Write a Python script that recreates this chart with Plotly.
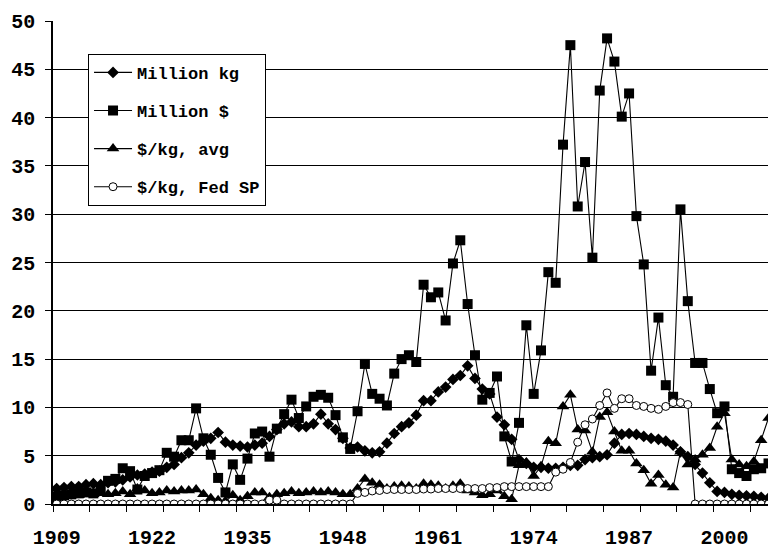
import plotly.graph_objects as go

# Annual series, 1909-2006
years = list(range(1909, 2007))

million_kg = [
    1.6,
    1.7, 1.8, 1.8, 2.0, 2.1, 2.0, 2.2, 2.3, 2.5, 2.8,
    3.0, 3.1, 3.3, 3.4, 3.8, 4.1, 4.8, 5.3, 6.1, 6.5,
    6.8, 7.4, 6.4, 6.1, 6.0, 5.9, 6.1, 6.3, 7.0, 7.7,
    8.3, 8.5, 8.0, 8.0, 8.3, 9.3, 8.3, 7.7, 6.8, 5.8,
    5.9, 5.5, 5.3, 5.4, 6.3, 7.3, 8.0, 8.4, 9.2, 10.7,
    10.7, 11.6, 12.1, 12.9, 13.3, 14.3, 13.0, 11.9, 11.4, 9.0,
    8.2, 6.7, 4.6, 4.2, 3.8, 3.8, 3.7, 3.7, 3.8, 4.0,
    4.0, 4.6, 4.8, 4.9, 5.1, 6.3, 7.2, 7.3, 7.2, 7.0,
    6.8, 6.7, 6.5, 6.1, 5.4, 4.9, 4.1, 3.2, 2.2, 1.3,
    1.2, 1.0, 0.9, 0.85, 0.8, 0.7, 0.6,
]

million_usd = [
    0.8,
    0.9, 1.0, 1.1, 1.2, 1.1, 1.5, 2.4, 2.6, 3.7, 3.4,
    1.5, 2.9, 3.2, 3.5, 5.3, 4.9, 6.6, 6.6, 9.9, 6.8,
    5.1, 2.7, 1.2, 4.1, 2.5, 4.7, 7.3, 7.5, 4.9, 7.8,
    9.3, 10.8, 8.9, 10.1, 11.1, 11.3, 11.0, 9.2, 6.9, 5.7,
    9.6, 14.5, 11.4, 10.9, 10.2, 13.5, 15.0, 15.4, 14.7, 22.7,
    21.4, 21.9, 19.0, 24.9, 27.3, 20.7, 15.4, 10.8, 11.5, 13.2,
    7.0, 4.4, 8.4, 18.5, 11.4, 15.9, 24.0, 22.9, 37.2, 47.5,
    30.8, 35.4, 25.5, 42.8, 48.2, 45.8, 40.1, 42.5, 29.8, 24.8,
    13.8, 19.3, 12.3, 11.1, 30.5, 21.0, 14.6, 14.6, 11.9, 9.4,
    10.1, 3.6, 3.2, 2.9, 3.6, 3.7, 4.2,
]

usd_per_kg_avg = [
    1.0,
    0.9, 1.1, 0.9, 1.2, 1.0, 1.1, 1.0, 1.1, 1.3, 1.0,
    1.6, 1.4, 1.1, 1.2, 1.4, 1.3, 1.4, 1.4, 1.5, 1.0,
    0.6, 0.4, 0.3, 0.9, 0.4, 0.8, 1.2, 1.2, 0.7, 1.0,
    1.1, 1.3, 1.1, 1.2, 1.3, 1.2, 1.3, 1.2, 1.0, 1.0,
    1.6, 2.6, 2.2, 2.0, 1.6, 1.8, 1.9, 1.8, 1.6, 2.1,
    2.0, 1.9, 1.6, 1.9, 2.1, 1.4, 1.2, 0.9, 1.0, 1.4,
    0.8, 0.5, 4.0, 4.3, 2.9, 3.9, 6.5, 6.3, 10.1, 11.3,
    7.7, 7.6, 5.4, 9.0, 9.5, 7.5, 5.5, 5.5, 4.2, 3.5,
    2.1, 3.0, 2.0, 1.7, 5.4, 4.1, 4.6, 5.1, 5.8, 8.0,
    9.4, 4.6, 4.1, 3.9, 4.4, 6.6, 8.9,
]

usd_per_kg_fed_sp = [
    0.0,
    0.0, 0.0, 0.0, 0.0, 0.0, 0.0, 0.0, 0.0, 0.0, 0.0,
    0.0, 0.0, 0.0, 0.0, 0.0, 0.0, 0.0, 0.0, 0.0, 0.0,
    0.0, 0.0, 0.0, 0.0, 0.0, 0.0, 0.0, 0.0, 0.4, 0.4,
    0.0, 0.0, 0.0, 0.0, 0.0, 0.0, 0.0, 0.0, 0.0, 0.0,
    1.1, 1.2, 1.35, 1.4, 1.5, 1.5, 1.5, 1.5, 1.5, 1.55,
    1.55, 1.6, 1.6, 1.6, 1.6, 1.6, 1.6, 1.6, 1.7, 1.7,
    1.8, 1.8, 1.8, 1.8, 1.8, 1.8, 1.8, 3.3, 3.6, 4.3,
    6.4, 8.2, 8.8, 10.2, 11.5, 9.9, 10.9, 10.9, 10.2, 10.1,
    9.9, 9.8, 10.1, 10.5, 10.5, 10.3, 0.0, 0.0, 0.0, 0.0,
    0.0, 0.0, 0.0, 0.0, 0.0, 0.0, 0.0,
]

x_tick_years = [1909, 1922, 1935, 1948, 1961, 1974, 1987, 2000]
x_tick_labels = [str(y) for y in x_tick_years]
y_tick_values = list(range(0, 55, 5))

MONO = "Liberation Mono, DejaVu Sans Mono, monospace"

fig = go.Figure()

series = [
    ("Million kg", million_kg, dict(symbol="diamond", size=9, color="black")),
    ("Million $", million_usd, dict(symbol="square", size=10, color="black")),
    ("$/kg, avg", usd_per_kg_avg, dict(symbol="triangle-up", size=11, color="black")),
    ("$/kg, Fed SP", usd_per_kg_fed_sp,
     dict(symbol="circle", size=8, color="white", line=dict(color="black", width=1))),
]

for i, (name, values, marker) in enumerate(series):
    fig.add_trace(go.Scatter(
        x=years, y=values, name=name, mode="lines+markers",
        line=dict(color="black", width=1.1),
        marker=marker, legendgroup=f"g{i}",
    ))

# tick marks every 5 categories, placed between category centres
minor_ticks = [1908.5 + 5 * k for k in range(20)]

fig.update_layout(
    width=768, height=550,
    margin=dict(l=53, r=0, t=21, b=42),
    paper_bgcolor="white", plot_bgcolor="white",
    showlegend=True,
    legend=dict(
        x=0.049, y=0.932, xanchor="left", yanchor="top",
        bgcolor="white", bordercolor="black", borderwidth=1,
        font=dict(family=MONO, size=17, color="black", weight="bold"),
        traceorder="grouped", tracegroupgap=13,
        itemwidth=38,
    ),
    xaxis=dict(
        range=[1908.5, 2005.93],
        tickmode="array", tickvals=x_tick_years, ticktext=x_tick_labels,
        ticks="", showgrid=False, zeroline=False,
        showline=True, linecolor="black", linewidth=1.5,
        tickfont=dict(family=MONO, size=20, color="black", weight="bold"),
        ticklabelstandoff=14,
        minor=dict(tickmode="array", tickvals=minor_ticks, ticks="outside",
                   ticklen=6, tickcolor="black", tickwidth=1, showgrid=False),
    ),
    yaxis=dict(
        range=[0, 50],
        tickmode="array", tickvals=y_tick_values,
        ticks="outside", ticklen=6, tickcolor="black", tickwidth=1,
        showgrid=True, gridcolor="black", gridwidth=1,
        zeroline=False,
        showline=True, linecolor="black", linewidth=1.5,
        tickfont=dict(family=MONO, size=20, color="black", weight="bold"),
        ticklabelstandoff=6,
    ),
)

fig.write_html("out.html")
